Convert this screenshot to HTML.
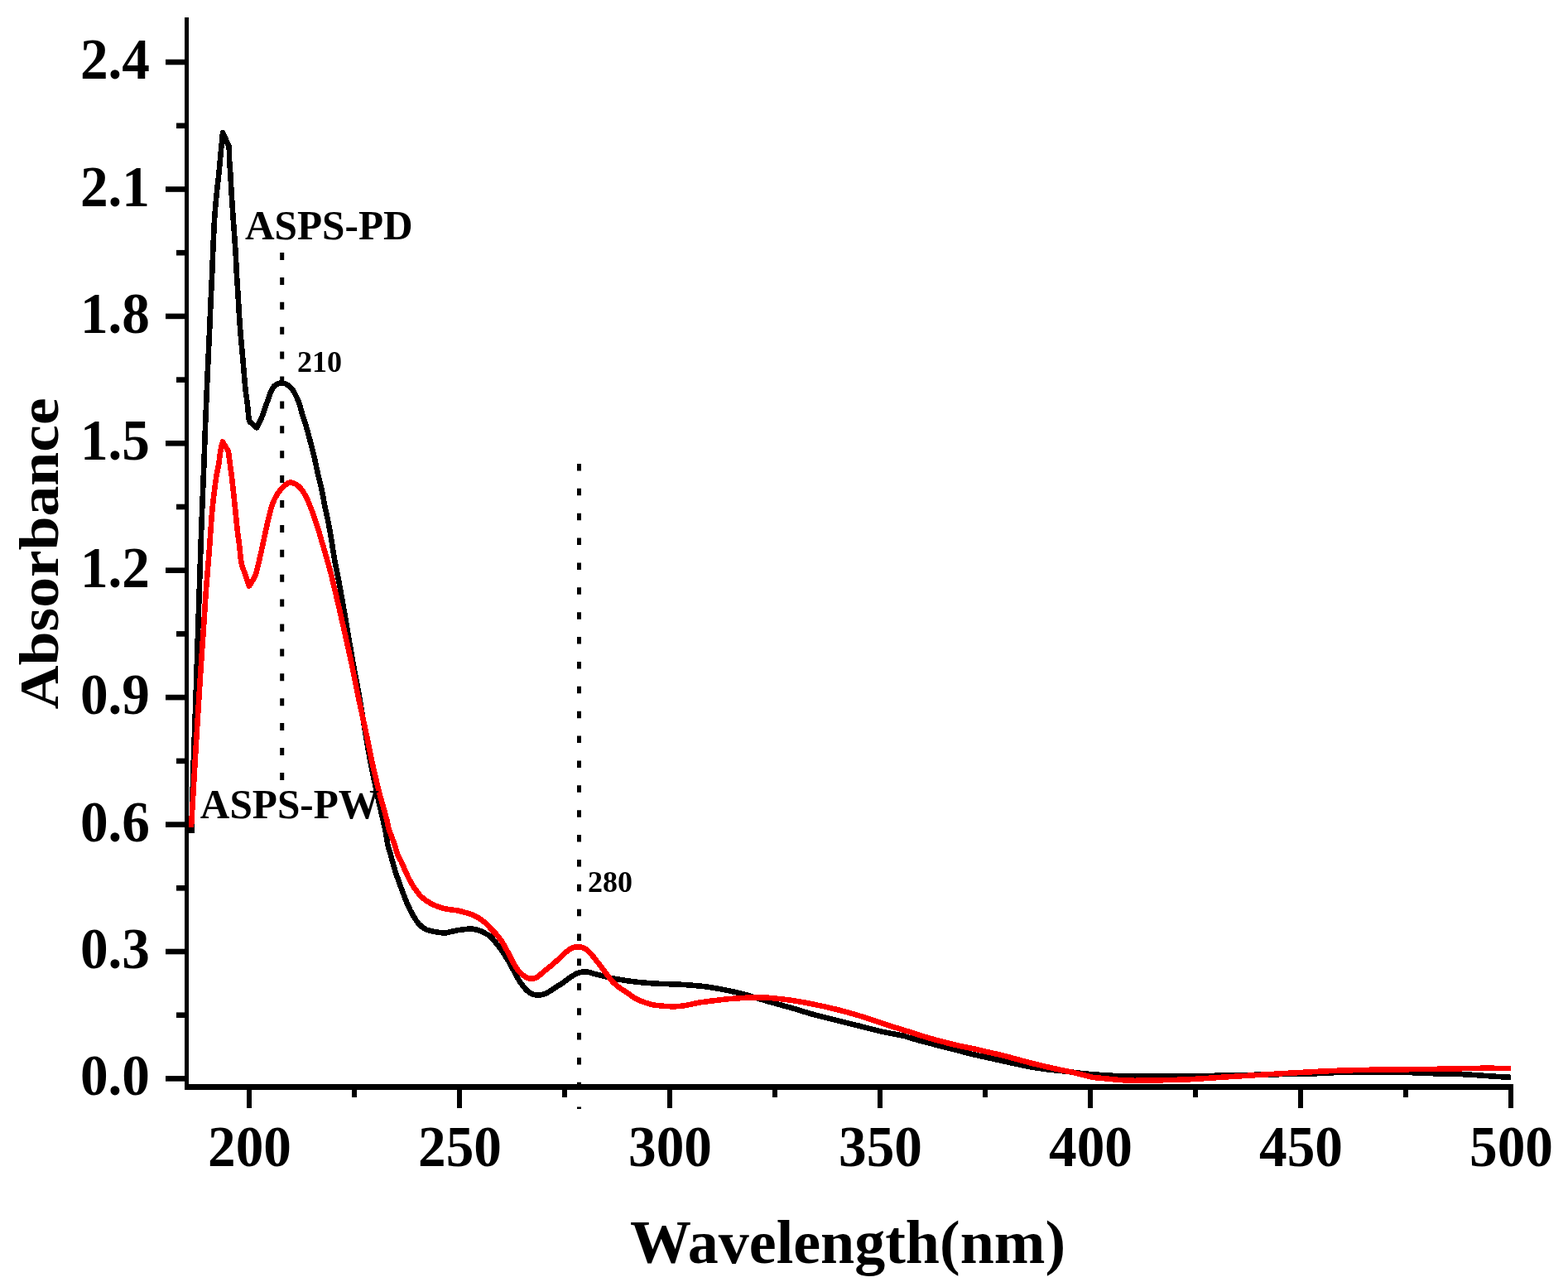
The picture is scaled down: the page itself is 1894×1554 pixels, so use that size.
<!DOCTYPE html>
<html><head><meta charset="utf-8"><title>UV absorbance spectra</title>
<style>
html,body{margin:0;padding:0;background:#fff;}
body{width:1894px;height:1554px;overflow:hidden;}
svg{display:block;}
.t{font-family:"Liberation Serif","Times New Roman",serif;font-weight:bold;font-size:67.3px;fill:#000;}
.ti{font-family:"Liberation Serif","Times New Roman",serif;font-weight:bold;font-size:74px;fill:#000;}
.ti2{font-family:"Liberation Serif","Times New Roman",serif;font-weight:bold;font-size:73.6px;fill:#000;}
.an{font-family:"Liberation Serif","Times New Roman",serif;font-weight:bold;font-size:49.3px;fill:#000;}
.sm{font-family:"Liberation Serif","Times New Roman",serif;font-weight:bold;font-size:36px;fill:#000;}
</style></head>
<body>
<svg width="1894" height="1554" viewBox="0 0 1894 1554">
<rect width="1894" height="1554" fill="#fff"/>
<rect x="223" y="21" width="5" height="1295" fill="#000"/>
<rect x="223" y="1309" width="1605" height="7" fill="#000"/>
<rect x="200" y="1299.1" width="23" height="6.6" fill="#000"/>
<rect x="213" y="1222.4" width="10" height="6.6" fill="#000"/>
<rect x="200" y="1145.7" width="23" height="6.6" fill="#000"/>
<rect x="213" y="1069.0" width="10" height="6.6" fill="#000"/>
<rect x="200" y="992.3" width="23" height="6.6" fill="#000"/>
<rect x="213" y="915.6" width="10" height="6.6" fill="#000"/>
<rect x="200" y="838.8" width="23" height="6.6" fill="#000"/>
<rect x="213" y="762.1" width="10" height="6.6" fill="#000"/>
<rect x="200" y="685.4" width="23" height="6.6" fill="#000"/>
<rect x="213" y="608.7" width="10" height="6.6" fill="#000"/>
<rect x="200" y="532.0" width="23" height="6.6" fill="#000"/>
<rect x="213" y="455.3" width="10" height="6.6" fill="#000"/>
<rect x="200" y="378.6" width="23" height="6.6" fill="#000"/>
<rect x="213" y="301.9" width="10" height="6.6" fill="#000"/>
<rect x="200" y="225.2" width="23" height="6.6" fill="#000"/>
<rect x="213" y="148.5" width="10" height="6.6" fill="#000"/>
<rect x="200" y="71.7" width="23" height="6.6" fill="#000"/>
<rect x="298.0" y="1316" width="6" height="22" fill="#000"/>
<rect x="425.0" y="1316" width="6" height="9" fill="#000"/>
<rect x="552.0" y="1316" width="6" height="22" fill="#000"/>
<rect x="679.0" y="1316" width="6" height="9" fill="#000"/>
<rect x="806.0" y="1316" width="6" height="22" fill="#000"/>
<rect x="933.0" y="1316" width="6" height="9" fill="#000"/>
<rect x="1060.0" y="1316" width="6" height="22" fill="#000"/>
<rect x="1187.0" y="1316" width="6" height="9" fill="#000"/>
<rect x="1314.0" y="1316" width="6" height="22" fill="#000"/>
<rect x="1441.0" y="1316" width="6" height="9" fill="#000"/>
<rect x="1568.0" y="1316" width="6" height="22" fill="#000"/>
<rect x="1695.0" y="1316" width="6" height="9" fill="#000"/>
<rect x="1822.0" y="1316" width="6" height="22" fill="#000"/>
<text transform="translate(181,1322.4) scale(1,1.025)" text-anchor="end" class="t">0.0</text>
<text transform="translate(181,1169.0) scale(1,1.025)" text-anchor="end" class="t">0.3</text>
<text transform="translate(181,1015.6) scale(1,1.025)" text-anchor="end" class="t">0.6</text>
<text transform="translate(181,862.1) scale(1,1.025)" text-anchor="end" class="t">0.9</text>
<text transform="translate(181,708.7) scale(1,1.025)" text-anchor="end" class="t">1.2</text>
<text transform="translate(181,555.3) scale(1,1.025)" text-anchor="end" class="t">1.5</text>
<text transform="translate(181,401.9) scale(1,1.025)" text-anchor="end" class="t">1.8</text>
<text transform="translate(181,248.5) scale(1,1.025)" text-anchor="end" class="t">2.1</text>
<text transform="translate(181,95.0) scale(1,1.025)" text-anchor="end" class="t">2.4</text>
<text transform="translate(301.5,1407.8) scale(1,1.025)" text-anchor="middle" class="t">200</text>
<text transform="translate(555.5,1407.8) scale(1,1.025)" text-anchor="middle" class="t">250</text>
<text transform="translate(809.5,1407.8) scale(1,1.025)" text-anchor="middle" class="t">300</text>
<text transform="translate(1063.5,1407.8) scale(1,1.025)" text-anchor="middle" class="t">350</text>
<text transform="translate(1317.5,1407.8) scale(1,1.025)" text-anchor="middle" class="t">400</text>
<text transform="translate(1571.5,1407.8) scale(1,1.025)" text-anchor="middle" class="t">450</text>
<text transform="translate(1825.5,1407.8) scale(1,1.025)" text-anchor="middle" class="t">500</text>
<text x="1024" y="1525" text-anchor="middle" class="ti">Wavelength(nm)</text>
<text transform="translate(69.5,668.5) rotate(-90) scale(1,0.91)" text-anchor="middle" class="ti2">Absorbance</text>
<line x1="340.7" y1="305" x2="340.7" y2="944" stroke="#000" stroke-width="5" stroke-dasharray="9 20.9"/>
<line x1="699.5" y1="560" x2="699.5" y2="1339" stroke="#000" stroke-width="5" stroke-dasharray="8.5 21.37"/>
<path d="M231.5,1006.0 C231.8,991.3 232.1,976.7 232.5,962.0 C232.8,949.3 233.2,936.7 233.6,924.0 C234.5,896.0 235.7,868.0 236.6,840.0 C237.6,810.0 238.5,780.0 239.5,750.0 C239.9,738.1 240.3,726.3 240.7,714.4 C241.3,697.3 241.8,680.1 242.4,663.0 C243.0,645.8 243.6,628.7 244.3,611.5 C245.0,594.3 245.7,577.2 246.4,560.0 C247.0,545.0 247.4,530.0 248.0,515.0 C248.8,495.0 249.6,475.0 250.5,455.0 C251.4,434.8 252.4,414.7 253.3,394.5 C253.8,384.2 254.1,373.9 254.6,363.6 C255.1,353.3 255.6,343.0 256.1,332.7 C256.5,322.4 256.9,312.1 257.3,301.8 C257.7,291.5 258.2,281.2 258.7,270.9 C258.9,266.6 259.3,262.3 259.6,258.0 C260.2,250.3 260.8,242.7 261.6,235.0 C262.4,226.5 263.5,218.0 264.4,209.5 C265.2,201.8 265.8,194.0 266.5,186.3 C267.0,181.2 267.5,176.1 268.0,171.0 C268.3,167.3 269.0,160.0 269.0,160.0 C269.0,160.0 276.4,176.5 276.4,176.5 C276.4,176.5 276.9,181.5 277.0,184.0 C277.1,187.3 276.9,190.7 277.1,194.0 C277.4,199.2 278.0,204.3 278.3,209.5 C278.8,217.2 279.1,225.0 279.6,232.7 C280.2,241.8 280.8,250.9 281.4,260.0 C282.4,273.9 283.5,287.9 284.4,301.8 C285.1,312.1 285.4,322.4 286.0,332.7 C286.6,343.0 287.3,353.3 288.0,363.6 C288.6,373.9 289.1,384.2 289.9,394.5 C290.9,408.0 292.3,421.5 293.5,435.0 C294.5,446.7 295.3,458.4 296.5,470.0 C297.2,476.5 298.3,482.9 299.0,489.3 C299.6,494.4 299.9,499.6 300.5,504.7 C300.7,506.2 301.5,509.0 301.5,509.0 C301.5,509.0 310.0,516.5 310.0,516.5 C310.0,516.5 314.6,507.6 316.5,503.0 C318.3,498.5 319.6,493.8 321.2,489.3 C321.9,487.4 322.7,485.7 323.4,483.8 C324.7,480.4 325.5,476.8 327.0,473.5 C328.1,471.0 329.4,468.6 331.0,466.5 C331.7,465.5 332.9,464.9 334.0,464.3 C334.9,463.7 336.0,463.2 337.0,462.9 C338.1,462.6 339.3,462.3 340.4,462.4 C341.9,462.5 343.6,462.9 345.0,463.5 C346.4,464.1 347.8,465.0 349.0,466.0 C350.5,467.2 351.9,468.5 353.0,470.0 C354.2,471.5 355.1,473.3 356.0,475.0 C356.9,476.6 357.7,478.3 358.5,480.0 C359.4,482.0 360.3,484.0 361.0,486.0 C361.8,488.3 362.5,490.6 363.2,493.0 C363.9,495.4 364.4,497.9 365.1,500.3 C366.2,503.8 367.5,507.1 368.6,510.6 C369.7,514.0 370.5,517.5 371.5,520.9 C372.4,524.3 373.4,527.8 374.3,531.2 C375.2,534.6 376.2,538.1 377.1,541.5 C378.0,544.9 378.8,548.4 379.6,551.8 C380.4,555.2 381.1,558.7 381.8,562.1 C382.4,564.7 382.9,567.4 383.5,570.0 C385.1,576.9 386.9,583.7 388.4,590.6 C389.9,597.4 391.0,604.3 392.4,611.2 C393.8,618.1 395.5,624.9 396.8,631.8 C398.0,637.8 399.0,643.9 400.0,650.0 C401.4,658.6 402.7,667.2 404.2,675.8 C406.5,688.7 409.3,701.5 411.6,714.4 C414.4,729.6 416.9,744.8 419.5,760.0 C421.9,773.7 424.1,787.4 426.5,801.0 C428.4,811.4 430.5,821.6 432.4,832.0 C434.2,842.0 435.8,852.0 437.5,862.0 C439.2,871.8 440.7,881.7 442.4,891.5 C444.0,901.0 445.6,910.5 447.5,920.0 C450.2,933.7 453.1,947.4 456.0,961.0 C458.1,970.7 460.4,980.3 462.6,990.0 C463.8,995.1 465.0,1000.2 466.0,1005.4 C467.0,1010.5 467.4,1015.8 468.5,1020.9 C469.3,1024.4 470.6,1027.8 471.6,1031.2 C472.6,1034.6 473.4,1038.1 474.4,1041.5 C475.4,1044.9 476.3,1048.4 477.4,1051.8 C478.5,1055.2 479.7,1058.6 480.9,1062.0 C481.8,1064.7 482.8,1067.3 483.8,1070.0 C486.4,1076.9 488.8,1083.9 491.7,1090.7 C493.7,1095.4 495.9,1100.1 498.5,1104.5 C500.8,1108.5 503.2,1112.6 506.3,1116.0 C508.7,1118.6 511.7,1121.1 515.0,1122.5 C519.2,1124.3 524.1,1124.8 528.7,1125.6 C531.5,1126.1 534.3,1126.6 537.1,1126.5 C539.7,1126.4 542.4,1125.5 545.0,1125.0 C547.9,1124.4 550.8,1123.5 553.8,1123.1 C558.8,1122.4 563.9,1121.6 568.9,1121.5 C570.9,1121.4 573.0,1122.1 575.0,1122.5 C576.0,1122.7 577.0,1122.9 578.0,1123.2 C579.7,1123.7 581.4,1124.3 583.0,1125.0 C584.2,1125.6 585.3,1126.5 586.5,1127.2 C587.9,1128.0 589.6,1128.6 590.9,1129.6 C592.4,1130.7 593.8,1132.2 595.1,1133.6 C597.2,1135.9 599.0,1138.4 600.9,1140.9 C602.5,1142.9 604.0,1144.9 605.5,1147.0 C607.0,1149.1 608.4,1151.3 609.8,1153.5 C611.2,1155.7 612.7,1157.8 614.0,1160.0 C615.3,1162.1 616.3,1164.3 617.5,1166.5 C618.5,1168.3 619.5,1170.2 620.5,1172.0 C621.5,1173.8 622.5,1175.7 623.5,1177.5 C624.5,1179.3 625.4,1181.2 626.5,1183.0 C627.7,1185.1 629.1,1187.1 630.5,1189.0 C632.1,1191.1 633.7,1193.2 635.5,1195.0 C637.0,1196.5 638.7,1197.9 640.5,1199.0 C642.2,1200.0 644.1,1200.8 646.0,1201.2 C647.9,1201.6 650.0,1201.7 652.0,1201.6 C653.4,1201.5 654.7,1201.0 656.0,1200.6 C657.4,1200.2 658.7,1199.8 660.0,1199.2 C661.5,1198.5 662.9,1197.6 664.3,1196.7 C667.5,1194.7 670.5,1192.6 673.7,1190.6 C675.8,1189.3 678.0,1188.1 680.0,1186.7 C682.6,1184.9 684.9,1182.7 687.5,1181.0 C691.0,1178.7 694.5,1176.2 698.4,1174.8 C701.4,1173.7 704.8,1173.1 708.0,1173.4 C712.6,1173.8 717.2,1175.8 721.8,1176.9 C728.7,1178.6 735.5,1180.4 742.4,1181.7 C751.5,1183.4 760.6,1184.8 769.8,1185.8 C778.9,1186.8 788.1,1187.4 797.3,1187.9 C804.2,1188.3 811.0,1188.1 817.9,1188.5 C829.3,1189.2 840.8,1189.9 852.2,1191.3 C861.4,1192.4 870.5,1194.3 879.6,1196.1 C886.4,1197.5 893.3,1199.1 900.0,1200.9 C909.2,1203.4 918.3,1206.5 927.5,1209.1 C936.6,1211.7 945.8,1214.1 954.9,1216.7 C964.1,1219.3 973.2,1222.4 982.4,1224.9 C991.5,1227.4 1000.7,1229.5 1009.8,1231.8 C1019.0,1234.1 1028.1,1236.3 1037.3,1238.6 C1046.4,1240.9 1055.5,1243.4 1064.7,1245.5 C1073.8,1247.6 1083.1,1248.9 1092.2,1251.0 C1094.9,1251.6 1097.4,1252.8 1100.0,1253.5 C1106.5,1255.4 1113.1,1257.1 1119.6,1258.8 C1130.7,1261.7 1141.7,1264.5 1152.8,1267.3 C1160.8,1269.4 1168.8,1271.6 1176.9,1273.5 C1182.5,1274.9 1188.2,1276.0 1193.8,1277.2 C1199.4,1278.5 1205.1,1279.7 1210.7,1281.0 C1216.3,1282.2 1222.0,1283.5 1227.6,1284.7 C1233.7,1286.0 1239.8,1287.5 1246.0,1288.6 C1250.6,1289.4 1255.3,1290.0 1260.0,1290.6 C1265.1,1291.3 1270.1,1291.9 1275.2,1292.5 C1279.8,1293.0 1284.5,1293.3 1289.1,1293.8 C1292.7,1294.2 1296.4,1294.9 1300.0,1295.3 C1307.3,1296.1 1314.7,1296.8 1322.0,1297.4 C1331.7,1298.1 1341.4,1298.8 1351.1,1299.2 C1360.7,1299.6 1370.4,1299.6 1380.0,1299.6 C1397.3,1299.6 1414.7,1299.6 1432.0,1299.4 C1451.3,1299.2 1470.7,1298.7 1490.0,1298.3 C1505.2,1298.0 1520.4,1297.7 1535.6,1297.4 C1553.1,1297.0 1570.5,1296.9 1588.0,1296.3 C1602.0,1295.9 1616.0,1294.7 1630.0,1294.4 C1647.6,1294.1 1665.2,1294.2 1682.8,1294.5 C1700.4,1294.8 1718.0,1295.8 1735.6,1296.4 C1746.2,1296.7 1756.7,1296.7 1767.3,1297.2 C1777.9,1297.7 1788.4,1298.6 1799.0,1299.3 C1807.7,1299.9 1816.3,1300.4 1825.0,1300.9" fill="none" stroke="#000" stroke-width="6.6" stroke-linejoin="round" stroke-linecap="butt" shape-rendering="crispEdges"/>
<path d="M231.0,998.8 C232.1,979.5 233.3,960.3 234.4,941.0 C235.7,918.7 237.0,896.3 238.4,874.0 C239.8,851.7 241.1,829.3 242.6,807.0 C243.8,788.0 245.2,769.0 246.5,750.0 C247.3,738.1 247.9,726.3 248.8,714.4 C250.1,697.3 251.6,680.1 252.9,663.0 C254.2,645.8 255.1,628.6 256.8,611.5 C258.0,599.3 259.6,587.1 261.4,575.0 C262.1,570.0 263.4,565.0 264.3,560.0 C264.7,557.9 264.8,555.7 265.1,553.6 C265.7,549.4 266.2,545.2 267.0,541.0 C267.5,538.5 269.0,533.5 269.0,533.5 C269.0,533.5 276.0,545.0 276.0,545.0 C276.0,545.0 276.6,551.0 277.0,554.0 C277.9,561.0 278.9,568.0 279.8,575.0 C280.8,582.9 281.7,590.7 282.5,598.6 C283.9,611.5 285.0,624.3 286.4,637.2 C287.2,644.8 288.4,652.4 289.3,660.0 C290.1,666.4 290.2,673.0 291.5,679.3 C292.6,684.6 294.9,689.6 296.6,694.7 C298.0,699.0 301.0,707.5 301.0,707.5 C301.0,707.5 306.6,699.2 308.4,694.7 C310.4,689.8 311.2,684.5 312.5,679.3 C314.1,672.9 315.5,666.4 316.9,660.0 C318.6,652.4 320.0,644.8 321.8,637.2 C323.8,628.6 325.7,619.9 328.2,611.5 C329.4,607.5 331.1,603.7 333.0,600.0 C334.5,597.2 336.3,594.5 338.3,592.0 C340.0,589.8 341.9,587.7 344.0,586.0 C345.9,584.5 348.2,582.9 350.5,582.5 C352.2,582.2 354.3,583.2 356.0,584.0 C357.9,584.9 359.9,586.2 361.4,587.7 C363.5,589.8 365.4,592.4 367.0,595.0 C369.1,598.5 370.9,602.2 372.5,606.0 C374.7,611.1 376.7,616.3 378.6,621.5 C381.0,628.3 383.2,635.1 385.3,642.0 C387.4,649.0 389.4,656.0 391.4,663.0 C393.9,671.6 396.5,680.1 398.7,688.7 C401.5,699.4 404.0,710.2 406.5,720.9 C409.6,733.9 412.6,747.0 415.5,760.0 C418.6,773.7 421.7,787.3 424.6,801.0 C427.3,814.0 429.7,827.0 432.4,840.0 C435.3,853.7 438.5,867.3 441.4,881.0 C444.2,894.0 446.5,907.0 449.4,920.0 C452.5,933.7 455.7,947.4 459.2,961.0 C461.7,970.7 464.8,980.3 467.3,990.0 C468.2,993.4 468.4,996.9 469.4,1000.3 C470.4,1003.8 472.0,1007.2 473.3,1010.6 C474.5,1014.0 475.8,1017.4 476.9,1020.9 C478.0,1024.3 478.8,1027.9 480.1,1031.2 C481.5,1034.7 483.6,1038.0 485.2,1041.5 C486.8,1044.9 488.1,1048.4 489.6,1051.8 C491.2,1055.2 492.8,1058.7 494.5,1062.0 C495.9,1064.7 497.4,1067.5 499.1,1070.0 C502.0,1074.2 504.8,1078.7 508.4,1082.2 C512.0,1085.7 516.3,1088.8 520.7,1091.1 C525.8,1093.8 531.5,1095.7 537.1,1097.2 C542.5,1098.6 548.3,1098.5 553.8,1099.7 C559.4,1100.9 564.9,1102.6 570.3,1104.5 C572.9,1105.4 575.4,1106.8 577.8,1108.2 C579.6,1109.2 581.3,1110.5 583.0,1111.8 C584.4,1112.8 585.8,1113.8 587.0,1115.0 C588.4,1116.3 589.6,1117.8 590.9,1119.2 C592.2,1120.6 593.4,1122.0 594.7,1123.3 C596.1,1124.8 597.6,1126.1 599.0,1127.6 C600.5,1129.2 601.9,1130.9 603.2,1132.6 C604.6,1134.5 605.9,1136.4 607.1,1138.4 C608.1,1140.1 609.0,1141.8 610.0,1143.5 C610.9,1145.2 611.9,1146.8 612.8,1148.5 C613.7,1150.2 614.6,1151.8 615.5,1153.5 C616.7,1155.8 617.8,1158.2 619.0,1160.5 C620.3,1162.9 621.5,1165.3 623.0,1167.5 C624.4,1169.6 625.8,1171.7 627.5,1173.5 C629.0,1175.2 630.7,1176.7 632.5,1178.0 C634.0,1179.2 635.7,1180.3 637.5,1181.0 C638.9,1181.6 640.5,1181.8 642.0,1181.8 C643.7,1181.7 645.5,1181.4 647.0,1180.7 C648.8,1179.9 650.4,1178.7 652.0,1177.5 C653.4,1176.4 654.6,1175.0 656.0,1173.8 C659.3,1171.1 662.7,1168.5 666.0,1165.8 C668.6,1163.6 671.1,1161.3 673.7,1159.0 C678.3,1154.9 682.4,1150.0 687.5,1146.7 C690.6,1144.7 694.8,1143.1 698.4,1143.2 C702.1,1143.3 706.4,1145.0 709.4,1147.4 C714.2,1151.2 717.8,1156.9 721.8,1161.8 C725.6,1166.5 729.1,1171.4 732.8,1176.2 C735.2,1179.3 737.4,1182.5 740.0,1185.4 C741.5,1187.1 743.3,1188.5 745.0,1190.0 C746.6,1191.3 748.3,1192.6 750.0,1193.8 C752.6,1195.6 755.4,1197.2 758.0,1199.0 C760.7,1200.8 763.2,1202.9 766.0,1204.6 C768.5,1206.1 771.3,1207.4 774.0,1208.6 C776.6,1209.7 779.3,1210.7 782.0,1211.5 C785.3,1212.4 788.6,1213.4 792.0,1213.8 C798.3,1214.6 804.7,1215.1 811.0,1215.3 C815.6,1215.4 820.2,1215.2 824.7,1214.6 C831.6,1213.6 838.4,1211.6 845.3,1210.5 C852.1,1209.4 859.0,1208.6 865.9,1207.8 C872.8,1207.0 879.6,1206.1 886.5,1205.7 C897.6,1205.0 908.9,1204.0 920.0,1204.3 C931.7,1204.6 943.3,1206.2 954.9,1207.7 C964.1,1208.9 973.3,1210.8 982.4,1212.6 C991.6,1214.4 1000.7,1216.4 1009.8,1218.7 C1019.0,1221.0 1028.2,1223.6 1037.3,1226.3 C1046.5,1229.1 1055.6,1232.2 1064.7,1235.2 C1073.9,1238.2 1083.0,1241.2 1092.2,1244.1 C1094.8,1244.9 1097.4,1245.5 1100.0,1246.3 C1106.6,1248.3 1113.0,1250.7 1119.6,1252.6 C1130.6,1255.8 1141.7,1258.8 1152.8,1261.5 C1160.8,1263.4 1168.9,1264.7 1176.9,1266.5 C1182.6,1267.7 1188.2,1269.2 1193.8,1270.5 C1199.4,1271.8 1205.1,1272.9 1210.7,1274.3 C1216.4,1275.7 1222.0,1277.3 1227.6,1278.8 C1234.0,1280.5 1240.4,1282.4 1246.9,1284.0 C1252.5,1285.4 1258.2,1286.7 1263.8,1288.0 C1269.4,1289.3 1275.1,1290.6 1280.7,1291.8 C1286.3,1293.0 1292.0,1293.9 1297.6,1295.2 C1302.5,1296.3 1307.3,1297.8 1312.2,1299.0 C1314.9,1299.7 1317.6,1300.5 1320.3,1300.9 C1324.2,1301.5 1328.2,1301.6 1332.1,1302.0 C1338.4,1302.6 1344.8,1303.4 1351.1,1303.9 C1357.4,1304.4 1363.8,1304.7 1370.1,1304.8 C1376.7,1304.9 1383.2,1304.6 1389.8,1304.5 C1403.9,1304.2 1417.9,1304.1 1432.0,1303.5 C1448.9,1302.7 1465.9,1301.4 1482.8,1300.3 C1500.4,1299.2 1518.0,1298.1 1535.6,1297.0 C1553.2,1296.0 1570.8,1294.9 1588.4,1294.0 C1602.3,1293.3 1616.1,1292.7 1630.0,1292.3 C1647.6,1291.8 1665.2,1291.7 1682.8,1291.4 C1700.4,1291.2 1718.0,1291.1 1735.6,1290.8 C1753.2,1290.5 1770.8,1290.0 1788.4,1289.8 C1800.6,1289.7 1812.8,1289.9 1825.0,1289.9" fill="none" stroke="#f00" stroke-width="6.6" stroke-linejoin="round" stroke-linecap="butt" shape-rendering="crispEdges"/>
<text transform="translate(296,288.9) scale(1,1.025)" class="an">ASPS-PD</text>
<text x="359" y="448.8" class="sm">210</text>
<text transform="translate(241.8,987.7) scale(1,1.025)" class="an">ASPS-PW</text>
<text x="710" y="1077" class="sm">280</text>
</svg>
</body></html>
